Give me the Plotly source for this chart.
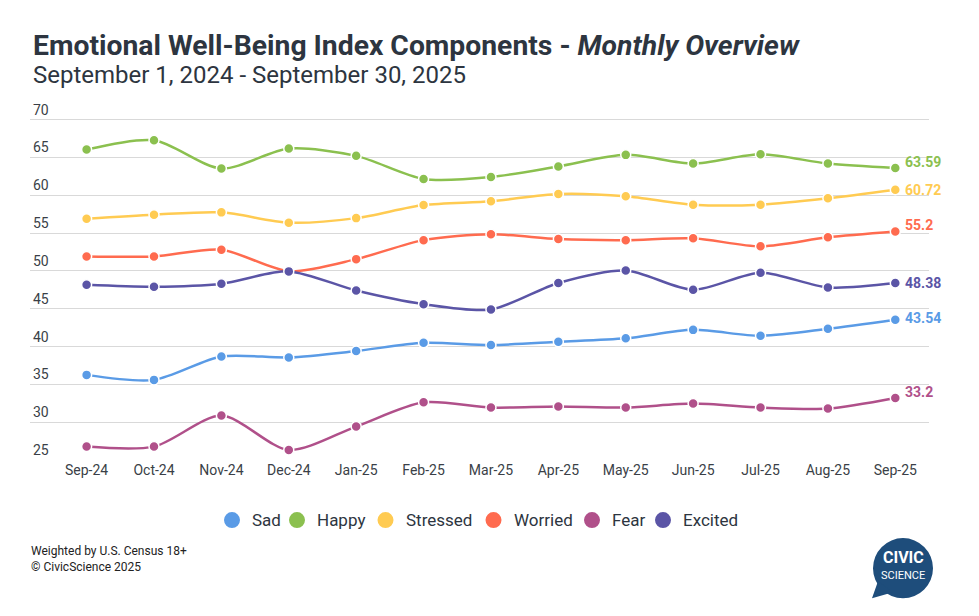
import plotly.graph_objects as go

months = ["Sep-24", "Oct-24", "Nov-24", "Dec-24", "Jan-25", "Feb-25", "Mar-25",
          "Apr-25", "May-25", "Jun-25", "Jul-25", "Aug-25", "Sep-25"]

sad      = [36.25, 35.59, 38.68, 38.55, 39.40, 40.49, 40.20, 40.62, 41.08, 42.20, 41.41, 42.34, 43.54]
happy    = [66.03, 67.26, 63.52, 66.16, 65.20, 62.15, 62.40, 63.80, 65.33, 64.18, 65.41, 64.18, 63.59]
stressed = [56.90, 57.43, 57.73, 56.37, 56.97, 58.70, 59.20, 60.17, 59.87, 58.75, 58.75, 59.59, 60.72]
worried  = [51.91, 51.91, 52.80, 49.95, 51.55, 54.06, 54.83, 54.20, 54.05, 54.30, 53.24, 54.43, 55.20]
fear     = [26.77, 26.77, 30.87, 26.33, 29.42, 32.62, 31.93, 32.07, 31.93, 32.46, 31.93, 31.80, 33.20]
excited  = [48.16, 47.90, 48.30, 49.93, 47.40, 45.60, 44.90, 48.40, 50.05, 47.50, 49.75, 47.81, 48.38]

series_names = ["Sad", "Happy", "Stressed", "Worried", "Fear", "Excited"]
series_values = [sad, happy, stressed, worried, fear, excited]
series_colors = ["#5a9be6", "#8bc04f", "#ffcb52", "#ff6b4f", "#b0508a", "#5b55a6"]
end_label_text = ["43.54", "63.59", "60.72", "55.2", "33.2", "48.38"]
end_label_shift = [2, 6, 0, 7, 6, 0]

y_ticks = [25, 30, 35, 40, 45, 50, 55, 60, 65, 70]
y_min, y_max = 25, 70.6

# screen-space layout (page body adds an 8px margin)
OFF = 8
W, H = 979, 616
PX_PER_UNIT = 340 / 45.0
L, R, B = 30, 929, 460
T = B - (y_max - y_min) * PX_PER_UNIT


def px(xp):
    return (xp - L) / (R - L)


def py(yp):
    return (B - yp) / (B - T)


fig = go.Figure()

for name, vals, col in zip(series_names, series_values, series_colors):
    fig.add_trace(go.Scatter(
        x=months, y=vals, name=name, mode="lines+markers",
        line=dict(color=col, width=2.5, shape="spline", smoothing=0.8),
        marker=dict(size=10, color=col, line=dict(color="white", width=1.5)),
        showlegend=False, hoverinfo="x+y+name",
    ))

annotations = []
shapes = []
for vals, col, txt, sh in zip(series_values, series_colors, end_label_text, end_label_shift):
    annotations.append(dict(
        x=months[-1], y=vals[-1], xref="x", yref="y", text="<b>" + txt + "</b>",
        showarrow=False, xanchor="left", yanchor="middle", xshift=8, yshift=sh,
        font=dict(family="Roboto", size=14, color=col),
    ))

# legend (manual, to match item spacing)
legend_circle_x = [232, 297, 385.5, 493.5, 592, 663]
legend_y = 520
for name, col, cx in zip(series_names, series_colors, legend_circle_x):
    shapes.append(dict(type="circle", xref="paper", yref="paper",
                       x0=px(cx - 8), x1=px(cx + 8), y0=py(legend_y + 8), y1=py(legend_y - 8),
                       fillcolor=col, line=dict(width=0)))
    annotations.append(dict(
        x=px(cx + 18), y=py(legend_y), xref="paper", yref="paper", xanchor="left",
        yanchor="middle", text=name, showarrow=False,
        font=dict(family="Roboto", size=17, color="#2d3540"),
    ))

annotations.append(dict(
    x=px(31), y=py(46), xref="paper", yref="paper", xanchor="left", yanchor="middle",
    text="<b>Emotional Well-Being Index Components - <i>Monthly Overview</i></b>",
    showarrow=False, font=dict(family="Roboto", size=28.3, color="#2d3540"),
))
annotations.append(dict(
    x=px(31), y=py(76), xref="paper", yref="paper", xanchor="left", yanchor="middle",
    text="September 1, 2024 - September 30, 2025",
    showarrow=False, font=dict(family="Roboto", size=24, color="#2d3540"),
))
annotations.append(dict(
    x=px(29), y=py(559), xref="paper", yref="paper", xanchor="left", yanchor="middle",
    text="Weighted by U.S. Census 18+<br>© CivicScience 2025", align="left",
    showarrow=False, font=dict(family="Roboto", size=12, color="#222222"),
))
# logo
shapes.append(dict(type="circle", xref="paper", yref="paper",
                   x0=px(873), x1=px(933), y0=py(598), y1=py(538),
                   fillcolor="#1e4d7b", line=dict(width=0)))
shapes.append(dict(type="path", xref="paper", yref="paper",
                   path="M {} {} L {} {} L {} {} Z".format(px(878), py(581), px(872), py(598), px(893), py(592)),
                   fillcolor="#1e4d7b", line=dict(width=0)))
annotations.append(dict(
    x=px(903), y=py(557), xref="paper", yref="paper", xanchor="center", yanchor="middle",
    text="<b>CIVIC</b>", showarrow=False, font=dict(family="Roboto", size=16, color="white"),
))
annotations.append(dict(
    x=px(903), y=py(575.5), xref="paper", yref="paper", xanchor="center", yanchor="middle",
    text="SCIENCE", showarrow=False, font=dict(family="Roboto", size=11, color="white"),
))

fig.update_layout(
    width=W - OFF, height=H - OFF,
    margin=dict(l=L - OFF, r=W - R, t=T - OFF, b=H - B),
    paper_bgcolor="white", plot_bgcolor="white",
    font=dict(family="Roboto", color="#3a3f47"),
    xaxis=dict(
        type="category", categoryorder="array", categoryarray=months,
        range=[-0.84, 12.5], showgrid=False, zeroline=False,
        showline=False, ticks="", tickfont=dict(size=14, color="#3a3f47"),
        fixedrange=True,
    ),
    yaxis=dict(
        range=[y_min, y_max], tickvals=y_ticks, showgrid=True, gridcolor="#d9d9d9",
        gridwidth=1, zeroline=False, showline=False, ticks="",
        ticklabelposition="inside top", ticklabeloverflow="allow",
        tickfont=dict(size=14, color="#3a3f47"), fixedrange=True,
    ),
    annotations=annotations,
    shapes=shapes,
    showlegend=False,
)

fig.write_html("out.html")
